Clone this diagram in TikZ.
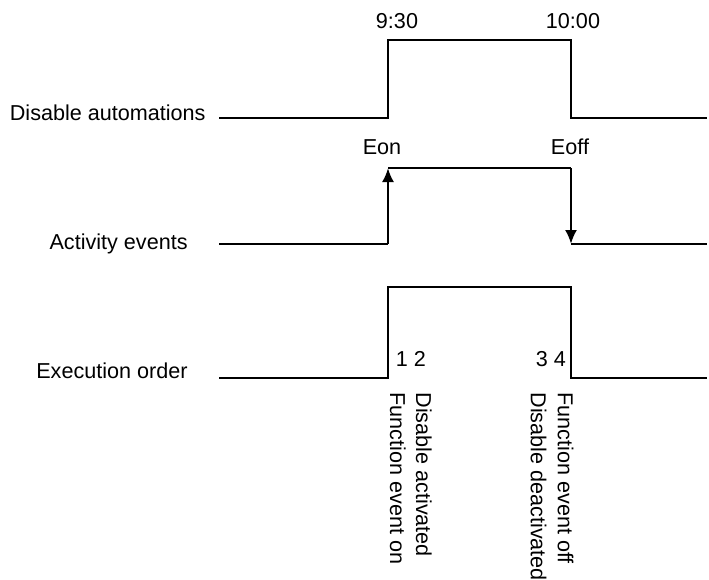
\documentclass[tikz,border=0pt]{standalone}
\usepackage{fontspec}
\setmainfont{Liberation Sans}
\usepackage{tikz}
\usetikzlibrary{arrows.meta}

\begin{document}
\begin{tikzpicture}[
    x=0.5pt, y=-0.5pt,
    every node/.style={font=\fontsize{10.8}{12}\selectfont, inner sep=0pt},
    signal/.style={line width=1.1pt, line join=miter},
    arrow/.style={signal, -{Latex[length=7pt, width=6pt]}},
    rowlabel/.style={anchor=base east},
    mark label/.style={anchor=base},
    orderlabel/.style={anchor=base west, rotate=-90}
]
\useasboundingbox (0,0) rectangle (709,580);

% Coordinates
\coordinate (d0) at (219,118); \coordinate (d1) at (388,118);
\coordinate (d2) at (388,40);  \coordinate (d3) at (571,40);
\coordinate (d4) at (571,118); \coordinate (d5) at (707,118);

\coordinate (a0) at (219,244); \coordinate (a1) at (388,244);
\coordinate (a2) at (388,168); \coordinate (a3) at (571,168);
\coordinate (a4) at (571,244); \coordinate (a5) at (707,244);

\coordinate (e0) at (219,378); \coordinate (e1) at (388,378);
\coordinate (e2) at (388,287); \coordinate (e3) at (571,287);
\coordinate (e4) at (571,378); \coordinate (e5) at (707,378);

% Nodes
\node[rowlabel] (disable) at (206,120) {Disable automations};
\node[rowlabel] (activity) at (188,249) {Activity events};
\node[rowlabel] (execution) at (188,378) {Execution order};

\node[mark label] (t930) at (397,28) {9:30};
\node[mark label] (t1000) at (573,28) {10:00};
\node[mark label] (eon) at (382,154) {Eon};
\node[mark label] (eoff) at (570,154) {Eoff};
\node[mark label] (n12) at (411,366) {1 2};
\node[mark label] (n34) at (551,366) {3 4};

\node[orderlabel] (fon) at (390,392) {Function event on};
\node[orderlabel] (dact) at (416,392) {Disable activated};
\node[orderlabel] (ddeact) at (531,392) {Disable deactivated};
\node[orderlabel] (foff) at (558,392) {Function event off};

% Waveforms
\draw[signal] (d0) -- (d1) -- (d2) -- (d3) -- (d4) -- (d5);

\draw[signal] (a0) -- (a1);
\draw[arrow] (a1) -- (a2);
\draw[signal] (a2) -- (a3);
\draw[arrow] (a3) -- (a4);
\draw[signal] (a4) -- (a5);

\draw[signal] (e0) -- (e1) -- (e2) -- (e3) -- (e4) -- (e5);

\end{tikzpicture}
\end{document}
